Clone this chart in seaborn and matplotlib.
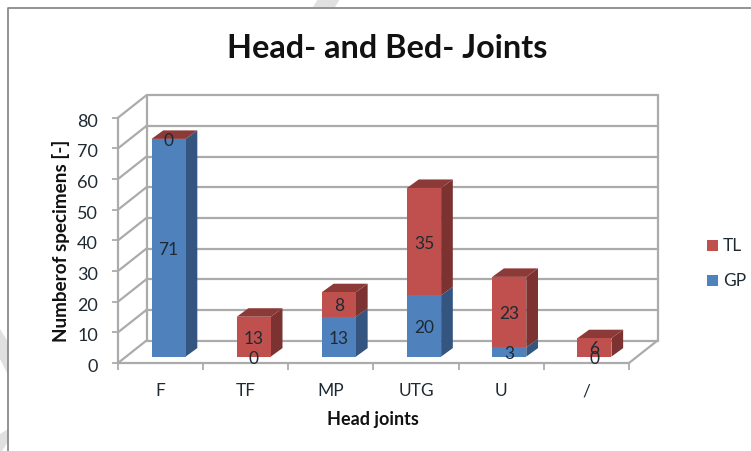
import matplotlib
matplotlib.use('Agg')
import matplotlib.pyplot as plt
import seaborn as sns
import numpy as np
from matplotlib.patches import Polygon, Rectangle
from matplotlib.transforms import Affine2D, IdentityTransform

categories = ['F', 'TF', 'MP', 'UTG', 'U', '/']
gp_values = [71, 0, 13, 20, 3, 0]
tl_values = [0, 13, 8, 35, 23, 6]
y_ticks = [0, 10, 20, 30, 40, 50, 60, 70, 80]

BLUE, BLUE_SIDE = '#4F81BD', '#34557F'
RED, RED_SIDE, RED_TOP = '#C0504D', '#7B3230', '#8C3A38'
WALL = '#ABABAB'
TEXT = '#1E2A33'

# depth of the fake 3d box, in pixels
DX, DY = 28.5, 22.5
# depth of one bar and its distance from the front of the box
BAR_DX, BAR_DY = 11.7, 8.5
OFF_X, OFF_Y = 8.0, 6.4

sns.set_theme(style='white')
plt.rcParams['font.family'] = ['Lato', 'DejaVu Sans']

W, H = 751, 452
fig = plt.figure(figsize=(W / 100, H / 100), dpi=100)
ax = fig.add_axes([118 / W, 1 - 364 / H, 511 / W, 245.3 / H])
ax.patch.set_alpha(0)

# total first, GP drawn over it, that gives the stack
totals = [g + t for g, t in zip(gp_values, tl_values)]
sns.barplot(x=categories, y=totals, color=RED, width=0.4, saturation=1, ax=ax, zorder=3)
sns.barplot(x=categories, y=gp_values, color=BLUE, width=0.4, saturation=1, ax=ax, zorder=4)
ax.set_xlim(-0.5, 5.5)
ax.set_ylim(0, 80)

bar_shift = Affine2D().translate(OFF_X, OFF_Y)
for p in ax.patches:
    p.set_transform(ax.transData + bar_shift)
    p.set_linewidth(0)


def px(x, y):
    return ax.transData.transform((x, y))


def wall_line(a, b, zorder=1):
    ax.add_line(plt.Line2D([a[0], b[0]], [a[1], b[1]], color=WALL, lw=1.6,
                           transform=IdentityTransform(), clip_on=False, zorder=zorder))


# side walls, back wall, grid
for v in y_ticks:
    front = px(-0.5, v)
    back = front + (DX, DY)
    wall_line(front, back)
    wall_line(back, px(5.5, v) + (DX, DY))
wall_line(px(-0.5, 0), px(-0.5, 80))
wall_line(px(-0.5, 0) + (DX, DY), px(-0.5, 80) + (DX, DY))
wall_line(px(5.5, 0) + (DX, DY), px(5.5, 80) + (DX, DY))
wall_line(px(5.5, 0), px(5.5, 0) + (DX, DY))


def side_and_top(i, y0, y1, side, top=None):
    x0, x1 = i - 0.2, i + 0.2
    shift = np.array([OFF_X, OFF_Y])
    depth = np.array([BAR_DX, BAR_DY])
    a, b = px(x1, y0) + shift, px(x1, y1) + shift
    ax.add_patch(Polygon([a, b, b + depth, a + depth], closed=True, fc=side, lw=0,
                         transform=IdentityTransform(), clip_on=False, zorder=2))
    if top:
        c = px(x0, y1) + shift
        ax.add_patch(Polygon([c, b, b + depth, c + depth], closed=True, fc=top, lw=0,
                             transform=IdentityTransform(), clip_on=False, zorder=2))


# labels sit a little lower than the bar centres
label_shift = ax.transData + Affine2D().translate(OFF_X, OFF_Y - 1)
for i, (g, t) in enumerate(zip(gp_values, tl_values)):
    if g > 0:
        side_and_top(i, 0, g, BLUE_SIDE)
    if t > 0:
        side_and_top(i, g, g + t, RED_SIDE)
    side_and_top(i, g + t, g + t, RED_SIDE, RED_TOP)
    ax.text(i, g / 2, str(g), ha='center', va='center', fontsize=12.5, color=TEXT,
            transform=label_shift, zorder=6)
    ax.text(i, g + t / 2, str(t), ha='center', va='center', fontsize=12.5, color=TEXT,
            transform=label_shift, zorder=6)

sns.despine(ax=ax, left=True, bottom=False, right=True, top=True)
ax.spines['bottom'].set_color(WALL)
ax.spines['bottom'].set_linewidth(1.6)
ax.set_xticks(np.arange(-0.5, 6, 1))
ax.set_xticklabels([])
ax.set_xticks(range(6), labels=categories, minor=True)
ax.tick_params(axis='x', which='major', length=5, width=1.3, color=WALL, bottom=True)
ax.tick_params(axis='x', which='minor', length=0, pad=14, labelsize=12.5, labelcolor=TEXT)
ax.set_yticks(y_ticks)
ax.tick_params(axis='y', length=4, width=1.3, color=WALL, left=True, pad=10.5,
               labelsize=13, labelcolor=TEXT)
for lab in ax.get_yticklabels():
    lab.set_transform(lab.get_transform() + Affine2D().translate(0, -1.5))

ax.set_xlabel('Head joints', fontsize=13, fontweight='bold', color='#111111', labelpad=0)
ax.xaxis.set_label_coords(255 / 511, -47 / 245.3)
ax.set_ylabel('Numberof specimens [-]', fontsize=13.6, fontweight='bold', color='#111111')
ax.yaxis.set_label_coords(-48 / 511, 0.5)

fig.text(387.5 / W, 1 - 48.5 / H, 'Head- and Bed- Joints', ha='center', va='center',
         fontsize=23.3, fontweight='bold', color='#111111')

# legend drawn by hand to keep the odd spacing
for label, color, yc in [('TL', RED, 246.5), ('GP', BLUE, 281.5)]:
    fig.add_artist(Rectangle((707 / W, 1 - (yc + 5.5) / H), 11 / W, 11 / H, fc=color, lw=0,
                             transform=fig.transFigure))
    fig.text(723 / W, 1 - yc / H, label, va='center', fontsize=12.5, color=TEXT)

# watermark scraps, then the chart frame over them
scraps = [
    [(0, 330), (0, 360), (8, 376), (8, 343)],
    [(0, 435), (0, 452), (2, 452), (8, 443), (8, 430)],
    [(313, 8), (335, 8), (340, 0), (318, 0)],
]
for s in scraps:
    fig.add_artist(Polygon([(x / W, 1 - y / H) for x, y in s], closed=True, fc='#E0E0E0', lw=0,
                           transform=fig.transFigure))
fig.add_artist(plt.Line2D([8.3 / W, 8.3 / W, 1], [0, 1 - 9 / H, 1 - 9 / H], color='#8A8A8A', lw=1.3))

plt.savefig('out.png', dpi=100)
